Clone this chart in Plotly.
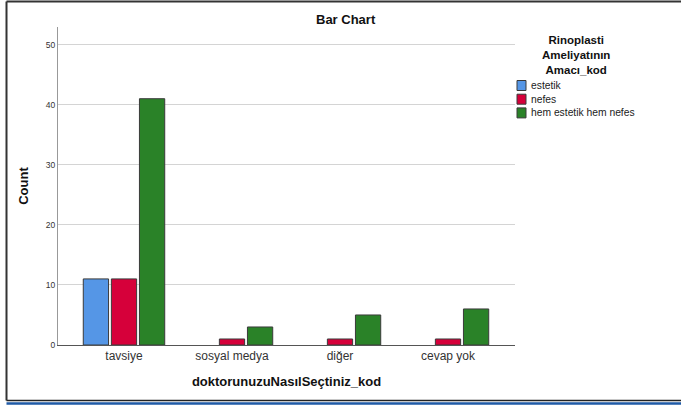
import plotly.graph_objects as go

# ---- data ----
categories = ["tavsiye", "sosyal medya", "diğer", "cevap yok"]
series_names = ["estetik", "nefes", "hem estetik hem nefes"]
estetik = [11, 0, 0, 0]
nefes = [11, 1, 1, 1]
hem_estetik_hem_nefes = [41, 3, 5, 6]
y_ticks = [0, 10, 20, 30, 40, 50]

series_values = [estetik, nefes, hem_estetik_hem_nefes]
colors = ["#5596E6", "#D6003A", "#2A8228"]

W, H = 681, 405
L, R, T, B = 58, 515, 27, 345  # plot area pixel box


def px(x):
    return (x - L) / (R - L)


def py(y):
    return (B - y) / (B - T)


FONT = "Liberation Sans, Arial, sans-serif"

fig = go.Figure()
for name, vals, col in zip(series_names, series_values, colors):
    fig.add_trace(go.Bar(
        x=categories, y=[v if v else None for v in vals], name=name,
        marker=dict(color=col, line=dict(color="#3a3a3a", width=1)),
        showlegend=False,
    ))

annotations = []
shapes = []

# title
annotations.append(dict(text="<b>Bar Chart</b>", xref="paper", yref="paper",
                        x=px(346), y=py(19), xanchor="center", yanchor="middle",
                        showarrow=False, font=dict(size=13, color="#111", family=FONT)))

# legend title
annotations.append(dict(text="<b>Rinoplasti<br>Ameliyatının<br>Amacı_kod</b>",
                        xref="paper", yref="paper", align="center",
                        x=px(576), y=py(55), xanchor="center", yanchor="middle",
                        showarrow=False, font=dict(size=11.5, color="#111", family=FONT)))

# legend entries (manual, compact like the reference)
for i, (name, col) in enumerate(zip(series_names, colors)):
    yc = 85.5 + i * 13.7
    shapes.append(dict(type="rect", xref="paper", yref="paper",
                       x0=px(517), x1=px(526), y0=py(yc - 5), y1=py(yc + 5),
                       fillcolor=col, line=dict(color="#3a3a3a", width=1)))
    annotations.append(dict(text=name, xref="paper", yref="paper",
                            x=px(529), y=py(yc), xanchor="left", yanchor="middle",
                            showarrow=False, font=dict(size=10.3, color="#222", family=FONT)))

# outer frame
shapes.append(dict(type="line", xref="paper", yref="paper",
                   x0=px(6.5), x1=px(6.5), y0=py(1.5), y1=py(400.5),
                   line=dict(color="#333", width=2)))
shapes.append(dict(type="line", xref="paper", yref="paper",
                   x0=px(6.5), x1=px(681), y0=py(1.5), y1=py(1.5),
                   line=dict(color="#333", width=2)))
shapes.append(dict(type="line", xref="paper", yref="paper",
                   x0=px(6.5), x1=px(681), y0=py(400.5), y1=py(400.5),
                   line=dict(color="#222", width=1.5)))
shapes.append(dict(type="line", xref="paper", yref="paper",
                   x0=px(6.5), x1=px(681), y0=py(403.5), y1=py(403.5),
                   line=dict(color="#1F5AA6", width=2.5)))

fig.update_layout(
    width=W, height=H,
    margin=dict(l=L, r=W - R, t=T, b=H - B, pad=0),
    paper_bgcolor="white", plot_bgcolor="white",
    barmode="group", bargap=0.22, bargroupgap=0.1,
    font=dict(family=FONT, color="#222"),
    annotations=annotations, shapes=shapes,
    showlegend=False,
    xaxis=dict(
        range=[(L - 124) / 108, (R - 124) / 108],
        showgrid=False, showline=True, linecolor="#555", linewidth=1,
        ticks="", tickfont=dict(size=12, color="#333", family=FONT),
        title=dict(text="<b>doktorunuzuNasılSeçtiniz_kod</b>", standoff=14,
                   font=dict(size=13, color="#111", family=FONT)),
    ),
    yaxis=dict(
        range=[0, (B - T) / 6.007],
        tickvals=y_ticks, showgrid=True, gridcolor="#d4d4d4", gridwidth=1,
        showline=True, linecolor="#999", linewidth=1, zeroline=False,
        ticks="", tickfont=dict(size=8.5, color="#333", family=FONT),
        title=dict(text="<b>Count</b>", standoff=14,
                   font=dict(size=13, color="#111", family=FONT)),
    ),
)

fig.write_html(
    "out.html",
    config={"displayModeBar": False},
    post_script="document.body.style.margin='0';document.body.style.padding='0';",
)
